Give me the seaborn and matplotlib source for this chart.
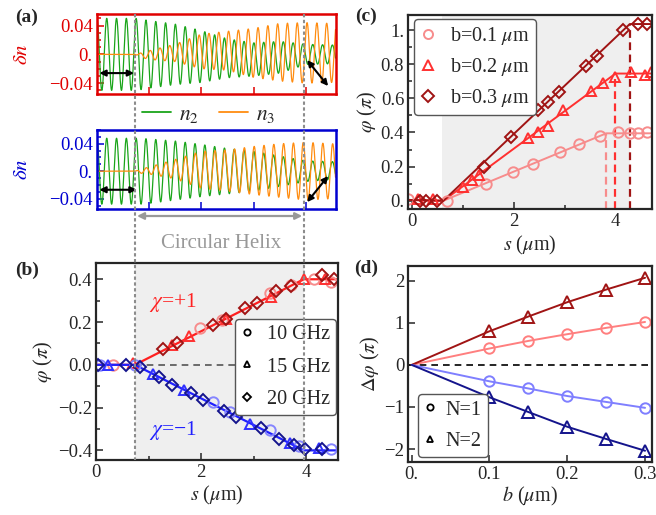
import numpy as np
import matplotlib
matplotlib.use('Agg')
import matplotlib.pyplot as plt
import matplotlib.transforms as mtransforms
from matplotlib.lines import Line2D
from matplotlib.ticker import MultipleLocator
import seaborn as sns

# ---------------- panel (a): oscillation envelopes
wave_period = 0.187
wave_peak0 = 0.2
env_s = [0.0, 0.74, 0.85, 1.0, 1.5, 2.0, 2.5, 3.0, 3.5, 4.0, 4.5, 4.6]
top_n2_amp = [0.050, 0.050, 0.049, 0.047, 0.042, 0.036, 0.027, 0.023, 0.022, 0.014, 0.013, 0.013]
top_n2_mid = [0.0, 0.0, 0.0, 0.0, 0.0, -0.003, -0.0055, -0.007, -0.004, 0.0, 0.0, 0.0]
top_n3_amp = [0.0, 0.0, 0.003, 0.006, 0.012, 0.024, 0.027, 0.034, 0.040, 0.042, 0.041, 0.041]
top_n3_mid = [0.0, 0.0, -0.001, -0.001, 0.002, 0.004, 0.005, 0.002, 0.003, 0.002, 0.002, 0.002]
bot_n2_amp = [0.048, 0.048, 0.048, 0.047, 0.043, 0.038, 0.033, 0.029, 0.022, 0.015, 0.013, 0.013]
bot_n2_mid = [0.0, 0.0, 0.0, 0.0, 0.001, 0.001, 0.0, 0.0, 0.0, 0.0, 0.001, 0.001]
bot_n3_amp = [0.0, 0.0, 0.003, 0.005, 0.014, 0.027, 0.030, 0.035, 0.039, 0.042, 0.040, 0.040]
bot_n3_mid = [0.0, 0.0, 0.0, 0.001, 0.003, 0.002, 0.001, 0.001, 0.001, 0.0, 0.0, 0.0]
top_n3_lag = 0.42
bot_n3_lag = 0.03

# ---------------- panel (b)
b_line_s = [0.0, 0.74, 3.95, 4.6]
b_line_up = [0.0, 0.0, 0.4, 0.4]
b_line_dn = [0.0, 0.0, -0.4, -0.4]
red_circ_s = [0.33, 1.98, 2.39, 3.30, 3.70, 4.15, 4.46]
red_circ_phi = [0.0, 0.172, 0.21, 0.336, 0.375, 0.40, 0.386]
red_tri_s = [0.71, 1.44, 1.76, 2.48, 3.33, 3.96, 4.35]
red_tri_phi = [0.008, 0.094, 0.136, 0.216, 0.316, 0.40, 0.40]
red_dia_s = [1.28, 1.54, 2.22, 2.48, 2.84, 3.06, 3.43, 3.70, 4.30, 4.52]
red_dia_phi = [0.073, 0.10, 0.186, 0.216, 0.264, 0.29, 0.344, 0.367, 0.419, 0.40]
blue_circ_s = [0.07, 0.74, 2.23, 2.55, 3.31, 3.85, 4.46]
blue_circ_phi = [0.0, 0.0, -0.172, -0.219, -0.305, -0.38, -0.395]
blue_tri_s = [0.23, 1.09, 1.68, 2.93, 3.68, 4.23]
blue_tri_phi = [0.0, -0.044, -0.117, -0.277, -0.367, -0.39]
blue_dia_s = [0.03, 0.58, 0.84, 1.19, 1.44, 1.80, 2.04, 2.44, 2.67, 3.14, 3.47, 3.76, 3.98, 4.29]
blue_dia_phi = [0.0, 0.0, -0.0125, -0.058, -0.094, -0.133, -0.164, -0.214, -0.242, -0.297,
                -0.347, -0.375, -0.395, -0.395]
freq_labels = ['10 GHz', '15 GHz', '20 GHz']

# ---------------- panel (c)
c_b01_line_s = [-0.07, 0.62, 3.82, 4.71]
c_b01_line_phi = [0.005, 0.0, 0.395, 0.395]
c_b02_line_s = [-0.07, 0.62, 4.0, 4.71]
c_b02_line_phi = [0.005, 0.0, 0.745, 0.745]
c_b03_line_s = [-0.07, 0.62, 4.28, 4.71]
c_b03_line_phi = [0.005, 0.0, 1.035, 1.035]
c_b01_s = [-0.07, 0.69, 1.46, 1.99, 2.38, 2.91, 3.28, 3.69, 4.05, 4.28, 4.44, 4.61]
c_b01_phi = [0.01, 0.0, 0.10, 0.17, 0.215, 0.287, 0.33, 0.378, 0.40, 0.397, 0.397, 0.40]
c_b02_s = [0.12, 0.42, 1.01, 1.18, 1.32, 2.29, 2.48, 2.68, 2.97, 3.52, 3.76, 3.99, 4.31, 4.57, 4.70]
c_b02_phi = [0.01, 0.01, 0.078, 0.12, 0.15, 0.37, 0.40, 0.44, 0.53, 0.645, 0.69, 0.727, 0.752,
             0.737, 0.756]
c_b03_s = [0.16, 0.29, 0.50, 1.42, 1.95, 2.48, 2.68, 2.89, 3.43, 3.64, 4.15, 4.44, 4.61]
c_b03_phi = [0.0, 0.0, 0.0, 0.20, 0.375, 0.53, 0.58, 0.635, 0.79, 0.845, 1.0, 1.035, 1.035]
c_labels = ['b=0.1 $\\mu$m', 'b=0.2 $\\mu$m', 'b=0.3 $\\mu$m']

# ---------------- panel (d)
d_b = [0.0, 0.1, 0.15, 0.2, 0.25, 0.3]
d_red_n1 = [0.0, 0.39, 0.57, 0.73, 0.88, 1.02]
d_red_n2 = [0.0, 0.80, 1.15, 1.49, 1.79, 2.07]
d_blue_n1 = [0.0, -0.39, -0.56, -0.74, -0.88, -1.02]
d_blue_n2 = [0.0, -0.77, -1.12, -1.47, -1.76, -2.04]
d_labels = ['N=1', 'N=2']

RED_L, RED, RED_D = '#f78c8c', '#ff3030', '#a01414'
BLUE_L, BLUE, BLUE_D = '#8585ff', '#3030ff', '#14148c'
GREEN, ORANGE = '#1aa51a', '#ff8c10'
SHADE = '#efefef'
TICK_FS = 13.5
LABEL_FS = 14.5

sns.set_style('ticks')
plt.rcParams['font.family'] = ['Liberation Serif', 'DejaVu Serif']
plt.rcParams['mathtext.fontset'] = 'stix'
plt.rcParams['font.size'] = 13
plt.rcParams['axes.linewidth'] = 1.5


def curve(ax, x, y, color, **kw):
    sns.lineplot(x=x, y=y, ax=ax, color=color, estimator=None, sort=False,
                 errorbar=None, **kw)


def pts(ax, x, y, color, marker, ms=7.5, **kw):
    curve(ax, x, y, color, marker=marker, linestyle='', ms=ms, mfc='none',
          mec=color, mew=1.4, **kw)


def style_ax(ax):
    ax.tick_params(which='both', direction='in', width=1.1, pad=3, labelsize=TICK_FS)
    ax.tick_params(which='major', length=5)
    ax.tick_params(which='minor', length=3)
    for sp in ax.spines.values():
        sp.set_linewidth(1.6)


def place_labels(ax, xl, yl, xy, yx):
    ax.set_xlabel(xl, fontsize=LABEL_FS, va='center')
    ax.xaxis.set_label_coords(0.5, xy)
    ax.set_ylabel(yl, fontsize=LABEL_FS, va='center')
    ax.yaxis.set_label_coords(yx, 0.5)


fig = plt.figure(figsize=(6.56, 5.15), dpi=100)
ax_a1 = fig.add_axes([0.1479, 0.8175, 0.3643, 0.1553])
ax_a2 = fig.add_axes([0.1479, 0.5942, 0.3643, 0.1534])
ax_b = fig.add_axes([0.1463, 0.1068, 0.3689, 0.3825])
ax_c = fig.add_axes([0.6224, 0.5936, 0.3710, 0.3773])
ax_d = fig.add_axes([0.6224, 0.1035, 0.3710, 0.3800])

# ---------------- (a)
s_wave = np.linspace(0.015, 4.56, 3000)
phase = 2 * np.pi * (s_wave - wave_peak0) / wave_period
for ax, amp2, mid2, amp3, mid3, lag, col, ylo, yhi in [
        (ax_a1, top_n2_amp, top_n2_mid, top_n3_amp, top_n3_mid, top_n3_lag, '#e00000', -0.055, 0.056),
        (ax_a2, bot_n2_amp, bot_n2_mid, bot_n3_amp, bot_n3_mid, bot_n3_lag, '#0000d0', -0.055, 0.06)]:
    n2 = np.interp(s_wave, env_s, mid2) + np.interp(s_wave, env_s, amp2) * np.cos(phase)
    n3 = np.interp(s_wave, env_s, mid3) + np.interp(s_wave, env_s, amp3) * np.cos(phase - 2 * np.pi * lag)
    curve(ax, s_wave, n2, GREEN, lw=0.9)
    curve(ax, s_wave, n3, ORANGE, lw=0.9)
    ax.set_xlim(0.015, 4.57)
    ax.set_ylim(ylo, yhi)
    style_ax(ax)
    for sp in ax.spines.values():
        sp.set_color(col)
        sp.set_linewidth(1.8)
    ax.set_yticks([-0.04, 0.0, 0.04])
    ax.set_yticklabels(['\u22120.04', '0.', '0.04'])
    ax.yaxis.set_minor_locator(MultipleLocator(0.01))
    ax.set_xticks([1, 2, 3, 4])
    ax.set_xticklabels([])
    ax.tick_params(which='both', colors=col, labelcolor=col)
    ax.set_ylabel('$\\delta n$', color=col, fontsize=15, va='center')
    ax.yaxis.set_label_coords(-0.31, 0.5)
    ax.set_xlabel('')

arrow_kw = dict(arrowstyle='<|-|>', color='black', lw=1.5, mutation_scale=9, shrinkA=0, shrinkB=0)
ax_a1.annotate('', xy=(0.06, -0.026), xytext=(0.72, -0.026), arrowprops=arrow_kw)
ax_a1.annotate('', xy=(4.02, -0.008), xytext=(4.42, -0.044), arrowprops=arrow_kw)
ax_a2.annotate('', xy=(0.06, -0.027), xytext=(0.77, -0.027), arrowprops=arrow_kw)
ax_a2.annotate('', xy=(4.02, -0.045), xytext=(4.42, -0.007), arrowprops=arrow_kw)

fig.legend(handles=[Line2D([], [], color=GREEN, lw=1.3), Line2D([], [], color=ORANGE, lw=1.3)],
           labels=['$n_2$', '$n_3$'], ncol=2, frameon=False, loc='center',
           bbox_to_anchor=(0.318, 0.777), handlelength=1.35, columnspacing=0.9,
           fontsize=15.5, handletextpad=0.4)

# ---------------- (b)
ax_b.axvspan(0.74, 3.95, color=SHADE, lw=0, zorder=0)
ax_b.plot([0.74, 3.95], [0, 0], color='#555555', lw=1.2, dashes=(4, 3), zorder=1)
curve(ax_b, b_line_s, b_line_up, '#ff2020', lw=1.6)
pts(ax_b, red_circ_s, red_circ_phi, RED_L, 'o')
pts(ax_b, red_tri_s, red_tri_phi, RED, '^')
pts(ax_b, red_dia_s, red_dia_phi, RED_D, 'D', ms=6.5)
curve(ax_b, b_line_s, b_line_dn, '#2020ff', lw=1.6)
pts(ax_b, blue_circ_s, blue_circ_phi, BLUE_L, 'o')
pts(ax_b, blue_tri_s, blue_tri_phi, BLUE, '^')
pts(ax_b, blue_dia_s, blue_dia_phi, BLUE_D, 'D', ms=6.5)
ax_b.set_xlim(0, 4.6)
ax_b.set_ylim(-0.445, 0.476)
style_ax(ax_b)
ax_b.set_xticks([0, 2, 4])
ax_b.xaxis.set_minor_locator(MultipleLocator(1))
ax_b.set_yticks([-0.4, -0.2, 0.0, 0.2, 0.4])
ax_b.set_yticklabels(['\u22120.4', '\u22120.2', '0.0', '0.2', '0.4'])
ax_b.yaxis.set_minor_locator(MultipleLocator(0.1))
ax_b.text(1.47, 0.29, '$\\chi$=+1', color='#ff2020', fontsize=15.5, ha='center', va='center')
ax_b.text(1.47, -0.305, '$\\chi$=\u22121', color='#2020ff', fontsize=15.5, ha='center', va='center')
place_labels(ax_b, '$s$ ($\\mu$m)', '$\\varphi$ ($\\pi$)', -0.178, -0.215)
hb = [Line2D([], [], ls='', marker=m, mfc='none', mec='black', mew=1.3, ms=s)
      for m, s in [('o', 4.5), ('^', 5), ('D', 4.5)]]
ax_b.legend(hb, freq_labels, loc='upper right', bbox_to_anchor=(1.0, 0.725), fontsize=14.5,
            frameon=True, fancybox=True, edgecolor='#555555', framealpha=1,
            handlelength=0.6, handletextpad=0.7, labelspacing=0.65, borderpad=0.3,
            borderaxespad=0.1)

# dashed guides across (a) and (b)
tr = mtransforms.blended_transform_factory(ax_b.transData, fig.transFigure)
for xv in [0.74, 3.95]:
    fig.add_artist(Line2D([xv, xv], [1 - 14 / 515, 1 - 460 / 515], transform=tr,
                          color='#8c8c8c', lw=1.5, dashes=(1.6, 1.2), zorder=5))
ax_b.annotate('', xy=(0.78, 1 - 216 / 515), xytext=(3.92, 1 - 216 / 515),
              xycoords=tr, textcoords=tr, annotation_clip=False,
              arrowprops=dict(arrowstyle='<|-|>', color='#999999', lw=1.6,
                              mutation_scale=10, shrinkA=0, shrinkB=0))
ax_b.text(2.38, 1 - 243 / 515, 'Circular Helix', transform=tr, ha='center', va='center',
          color='#999999', fontsize=15)

# ---------------- (c)
ax_c.axvspan(0.6, 4.28, color=SHADE, lw=0, zorder=0)
for xv, top, col in [(3.82, 0.395, RED_L), (4.0, 0.745, RED), (4.28, 1.035, RED_D)]:
    ax_c.plot([xv, xv], [-0.05, top], color=col, lw=1.6, dashes=(3.5, 2), zorder=1)
curve(ax_c, c_b01_line_s, c_b01_line_phi, RED_L, lw=1.4)
curve(ax_c, c_b02_line_s, c_b02_line_phi, RED, lw=1.4)
curve(ax_c, c_b03_line_s, c_b03_line_phi, RED_D, lw=1.4)
pts(ax_c, c_b01_s, c_b01_phi, RED_L, 'o')
pts(ax_c, c_b02_s, c_b02_phi, RED, '^')
pts(ax_c, c_b03_s, c_b03_phi, RED_D, 'D', ms=6.5)
ax_c.set_xlim(-0.067, 4.71)
ax_c.set_ylim(-0.05, 1.088)
style_ax(ax_c)
ax_c.set_xticks([0, 2, 4])
ax_c.xaxis.set_minor_locator(MultipleLocator(1))
ax_c.set_yticks([0, 0.2, 0.4, 0.6, 0.8, 1.0])
ax_c.set_yticklabels(['0.', '0.2', '0.4', '0.6', '0.8', '1.'])
ax_c.yaxis.set_minor_locator(MultipleLocator(0.1))
place_labels(ax_c, '$s$ ($\\mu$m)', '$\\varphi$ ($\\pi$)', -0.184, -0.168)
hc = [Line2D([], [], ls='', marker=m, mfc='none', mec=c, mew=1.4, ms=s)
      for m, c, s in [('o', RED_L, 6.5), ('^', RED, 7), ('D', RED_D, 6)]]
ax_c.legend(hc, c_labels, loc='upper left', bbox_to_anchor=(0.015, 0.99), fontsize=14.5,
            frameon=True, fancybox=True, edgecolor='#555555', framealpha=1,
            handlelength=0.8, handletextpad=0.7, labelspacing=0.45, borderpad=0.3,
            borderaxespad=0.1)

# ---------------- (d)
ax_d.axhline(0, color='black', lw=1.2, dashes=(4, 3), zorder=1)
for yv, col, m in [(d_red_n1, '#ff7f7f', 'o'), (d_red_n2, RED_D, '^'),
                   (d_blue_n1, '#7f7fff', 'o'), (d_blue_n2, BLUE_D, '^')]:
    curve(ax_d, d_b, yv, col, lw=1.4, marker=m, ms=7.5 if m == 'o' else 8, mfc='none',
          mec=col, mew=1.4, markevery=slice(1, None))
ax_d.set_xlim(-0.0044, 0.3085)
ax_d.set_ylim(-2.30, 2.35)
style_ax(ax_d)
ax_d.set_xticks([0, 0.1, 0.2, 0.3])
ax_d.set_xticklabels(['0.', '0.1', '0.2', '0.3'])
ax_d.set_yticks([-2, -1, 0, 1, 2])
ax_d.set_yticklabels(['\u22122', '\u22121', '0', '1', '2'])
place_labels(ax_d, '$b$ ($\\mu$m)', '$\\Delta\\varphi$ ($\\pi$)', -0.18, -0.155)
hd = [Line2D([], [], ls='', marker=m, mfc='none', mec='black', mew=1.3, ms=s)
      for m, s in [('o', 4.5), ('^', 5)]]
ax_d.legend(hd, d_labels, loc='lower left', bbox_to_anchor=(0.03, 0.015), fontsize=14.5,
            frameon=True, fancybox=True, edgecolor='#555555', framealpha=1,
            handlelength=0.6, handletextpad=0.5, labelspacing=0.6, borderpad=0.3,
            borderaxespad=0.1)

for label, x, y in [('(a)', 27, 17), ('(b)', 27, 270), ('(c)', 366, 16), ('(d)', 366, 268)]:
    fig.text(x / 656, 1 - y / 515, label, fontsize=14, fontweight='bold', ha='center', va='center')

fig.savefig('out.png', dpi=100)
